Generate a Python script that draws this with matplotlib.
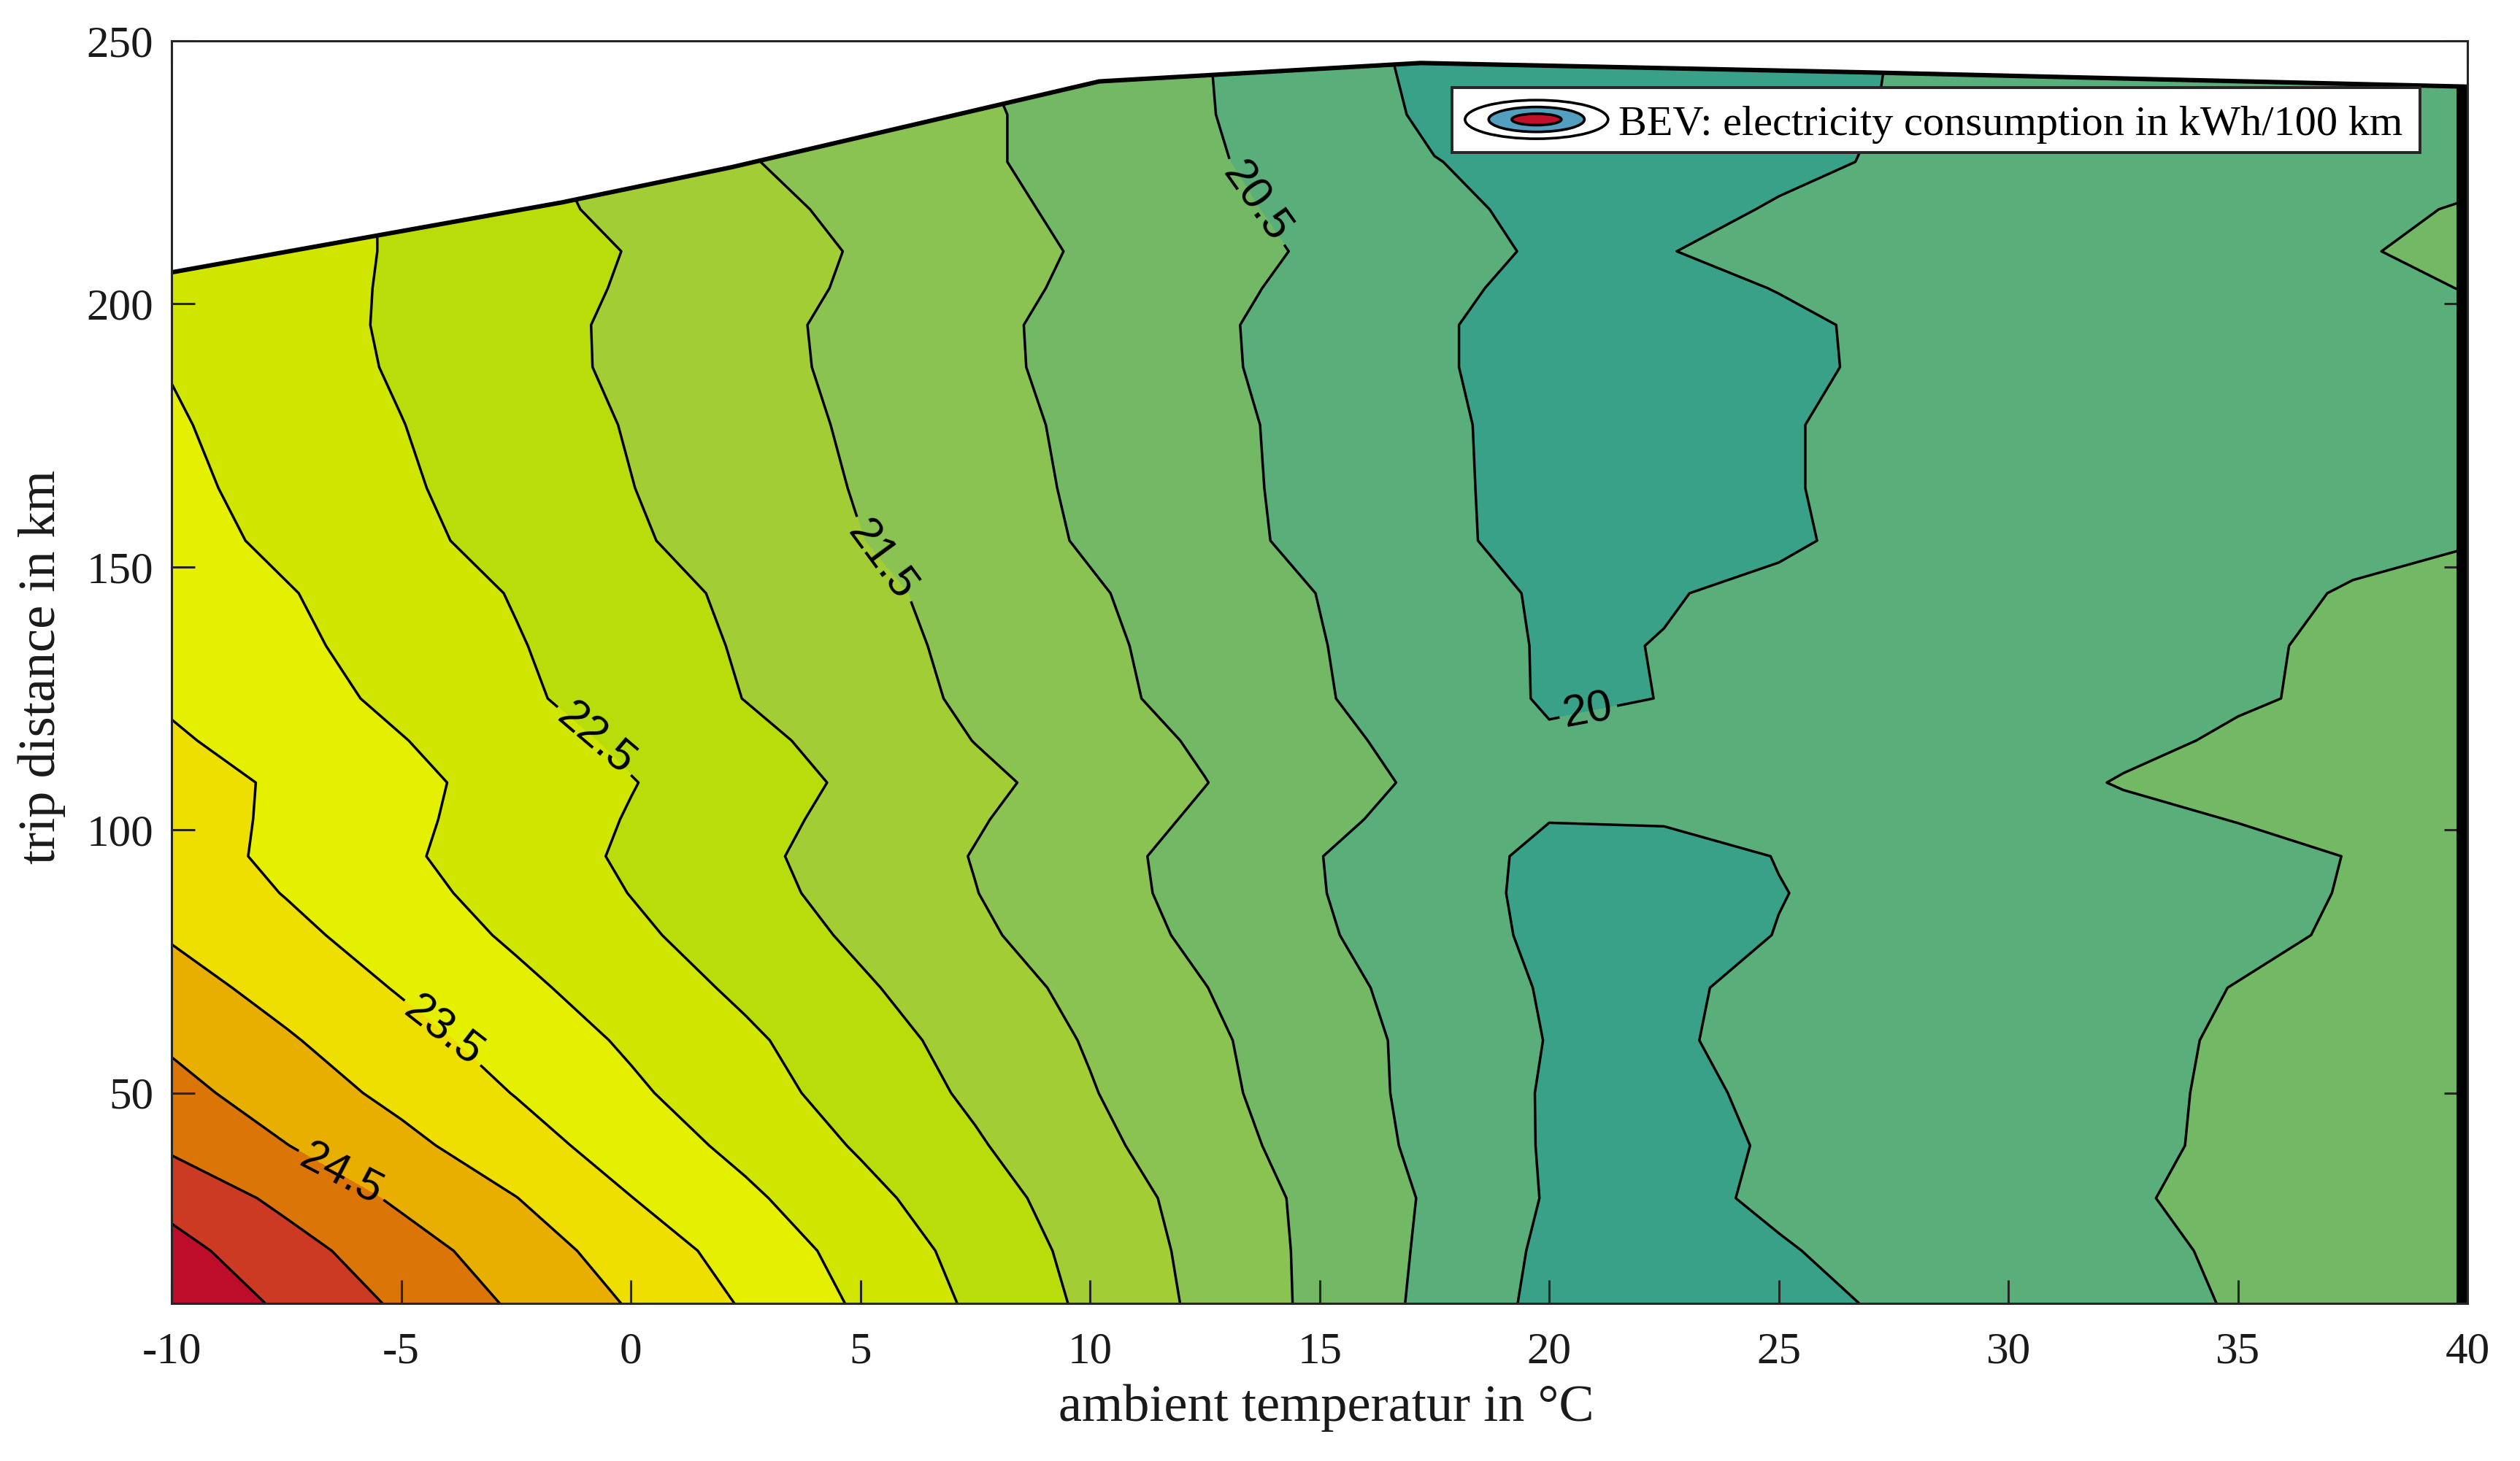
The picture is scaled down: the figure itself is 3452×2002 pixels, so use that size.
import numpy as np
import matplotlib
matplotlib.use("Agg")
import matplotlib.pyplot as plt
from matplotlib.patches import Ellipse, Rectangle

# ---------------- data ----------------
temperatures = [-10, -7.5, -5, -2.5, 0, 2.5, 5, 7.5, 10, 12.5, 15, 17.5, 20,
                22.5, 25, 27.5, 30, 32.5, 35, 37.5, 40]
distances = [10, 20, 30, 40, 50, 60, 70, 80, 88, 95, 102, 109, 117, 125, 135,
             145, 155, 165, 177, 188, 196, 203, 210, 218, 227, 236, 246]

# electricity consumption in kWh/100 km (rows = distances, cols = temperatures)
consumption = [
    [25.90, 25.41, 24.92, 24.43, 23.96, 23.45, 22.93, 22.42, 21.90, 21.39, 20.88, 20.37, 19.86, 19.76, 19.86, 20.06, 20.21, 20.37, 20.53, 20.63, 20.70],
    [25.66, 25.19, 24.71, 24.25, 23.78, 23.30, 22.82, 22.33, 21.84, 21.36, 20.88, 20.40, 19.90, 19.78, 19.97, 20.12, 20.27, 20.42, 20.55, 20.62, 20.68],
    [25.35, 24.88, 24.42, 24.01, 23.51, 23.09, 22.64, 22.20, 21.76, 21.32, 20.87, 20.43, 19.96, 19.90, 20.06, 20.19, 20.33, 20.48, 20.55, 20.62, 20.68],
    [24.92, 24.51, 24.13, 23.70, 23.28, 22.87, 22.45, 22.05, 21.63, 21.21, 20.79, 20.37, 19.95, 19.88, 20.04, 20.17, 20.30, 20.43, 20.56, 20.62, 20.68],
    [24.65, 24.26, 23.87, 23.48, 23.08, 22.69, 22.30, 21.92, 21.53, 21.13, 20.74, 20.35, 19.95, 19.90, 20.08, 20.18, 20.31, 20.43, 20.55, 20.62, 20.68],
    [24.43, 24.05, 23.67, 23.30, 22.93, 22.58, 22.20, 21.83, 21.46, 21.09, 20.72, 20.35, 19.98, 19.96, 20.09, 20.20, 20.32, 20.44, 20.53, 20.60, 20.66],
    [24.19, 23.83, 23.46, 23.11, 22.76, 22.41, 22.06, 21.72, 21.37, 21.01, 20.66, 20.30, 19.95, 19.94, 20.09, 20.18, 20.29, 20.40, 20.51, 20.60, 20.66],
    [23.96, 23.62, 23.27, 22.93, 22.59, 22.26, 21.92, 21.58, 21.24, 20.90, 20.56, 20.22, 19.90, 19.85, 20.01, 20.11, 20.22, 20.33, 20.43, 20.54, 20.60],
    [23.81, 23.48, 23.15, 22.82, 22.49, 22.16, 21.83, 21.51, 21.18, 20.85, 20.52, 20.20, 19.88, 19.82, 19.99, 20.10, 20.20, 20.31, 20.41, 20.52, 20.56],
    [23.72, 23.39, 23.07, 22.75, 22.43, 22.11, 21.79, 21.48, 21.16, 20.84, 20.51, 20.19, 19.90, 19.87, 20.01, 20.11, 20.21, 20.31, 20.41, 20.51, 20.55],
    [23.72, 23.41, 23.10, 22.79, 22.47, 22.16, 21.85, 21.54, 21.23, 20.93, 20.62, 20.31, 20.01, 20.03, 20.08, 20.22, 20.32, 20.42, 20.51, 20.56, 20.60],
    [23.72, 23.42, 23.12, 22.82, 22.52, 22.22, 21.91, 21.61, 21.31, 21.01, 20.70, 20.40, 20.12, 20.08, 20.12, 20.25, 20.38, 20.52, 20.56, 20.60, 20.62],
    [23.56, 23.29, 23.02, 22.71, 22.41, 22.12, 21.82, 21.49, 21.22, 20.94, 20.63, 20.32, 20.05, 20.04, 20.12, 20.22, 20.32, 20.43, 20.54, 20.60, 20.62],
    [23.44, 23.20, 22.89, 22.58, 22.29, 21.99, 21.71, 21.42, 21.13, 20.84, 20.54, 20.26, 19.95, 20.005, 20.10, 20.19, 20.28, 20.37, 20.47, 20.55, 20.58],
    [23.38, 23.10, 22.81, 22.53, 22.24, 21.95, 21.67, 21.38, 21.10, 20.81, 20.52, 20.24, 19.95, 20.01, 20.08, 20.19, 20.28, 20.37, 20.46, 20.55, 20.58],
    [23.31, 23.03, 22.75, 22.47, 22.19, 21.90, 21.62, 21.33, 21.05, 20.77, 20.49, 20.22, 19.93, 19.98, 20.07, 20.16, 20.25, 20.34, 20.43, 20.52, 20.56],
    [23.18, 22.90, 22.62, 22.34, 22.06, 21.79, 21.51, 21.23, 20.95, 20.66, 20.38, 20.11, 19.82, 19.85, 19.95, 20.10, 20.20, 20.28, 20.36, 20.44, 20.49],
    [23.11, 22.84, 22.56, 22.29, 22.01, 21.74, 21.47, 21.20, 20.92, 20.64, 20.37, 20.10, 19.82, 19.84, 19.97, 20.10, 20.20, 20.27, 20.33, 20.40, 20.45],
    [23.05, 22.78, 22.51, 22.24, 21.97, 21.70, 21.43, 21.16, 20.90, 20.63, 20.36, 20.09, 19.82, 19.83, 19.97, 20.10, 20.18, 20.25, 20.30, 20.36, 20.40],
    [22.98, 22.71, 22.45, 22.18, 21.91, 21.65, 21.39, 21.12, 20.85, 20.59, 20.32, 20.06, 19.78, 19.80, 19.92, 20.07, 20.15, 20.22, 20.28, 20.34, 20.40],
    [22.95, 22.69, 22.43, 22.17, 21.91, 21.64, 21.38, 21.11, 20.85, 20.58, 20.32, 20.06, 19.78, 19.80, 19.92, 20.08, 20.16, 20.24, 20.31, 20.38, 20.44],
    [22.93, 22.68, 22.44, 22.20, 21.95, 21.69, 21.43, 21.16, 20.90, 20.63, 20.37, 20.11, 19.86, 19.87, 20.014, 20.10, 20.18, 20.26, 20.34, 20.42, 20.51],
    [22.92, 22.69, 22.45, 22.22, 21.98, 21.72, 21.46, 21.20, 20.94, 20.69, 20.43, 20.18, 19.93, 19.99, 20.08, 20.16, 20.24, 20.32, 20.40, 20.48, 20.56],
    [22.92, 22.69, 22.45, 22.14, 21.89, 21.64, 21.39, 21.14, 20.88, 20.62, 20.37, 20.12, 19.87, 19.88, 20.03, 20.11, 20.20, 20.28, 20.36, 20.44, 20.52],
    [22.90, 22.67, 22.43, 22.12, 21.79, 21.53, 21.30, 21.07, 20.82, 20.56, 20.29, 20.01, 19.88, 19.83, 19.92, 20.04, 20.12, 20.20, 20.28, 20.35, 20.42],
    [22.85, 22.62, 22.40, 22.10, 21.80, 21.50, 21.27, 21.07, 20.82, 20.53, 20.22, 19.93, 19.82, 19.80, 19.88, 20.02, 20.10, 20.18, 20.26, 20.33, 20.40],
    [22.80, 22.60, 22.35, 22.05, 21.75, 21.48, 21.22, 21.02, 20.78, 20.52, 20.18, 19.90, 19.82, 19.80, 19.88, 20.01, 20.08, 20.16, 20.24, 20.30, 20.36],
]

# maximum trip distance per temperature (upper edge of the data region)
boundary_temp = [-10, -1.5, 2.2, 10.2, 17.2, 27.0, 40]
boundary_dist = [206.0, 219.3, 226.0, 242.3, 245.8, 244.0, 241.3]

fill_levels = [19.5, 20.0, 20.5, 21.0, 21.5, 22.0, 22.5, 23.0, 23.5, 24.0, 24.5, 25.0, 25.5, 26.0]
line_levels = [20.0, 20.5, 21.0, 21.5, 22.0, 22.5, 23.0, 23.5, 24.0, 24.5, 25.0, 25.5]
band_colors = ['#3aa189', '#5aae79', '#73b865', '#8bc352', '#a3cd35', '#b9dc0b',
               '#d0e600', '#e4f000', '#efdf00', '#e8ae00', '#dc7507', '#cd3a23', '#bd0d2b']

# positions of the inline contour labels (on the 24.5, 23.5, 22.5, 21.5, 20.5, 20 lines)
label_spots = [(-6.3, 34.5), (-4.1, 61.4), (-0.8, 116.8), (5.4, 150.7), (13.6, 219.2), (20.9, 120.0)]

x_ticks = [-10, -5, 0, 5, 10, 15, 20, 25, 30, 35, 40]
y_ticks = [50, 100, 150, 200, 250]

x_label = "ambient temperatur in °C"
y_label = "trip distance in km"
legend_text = "BEV: electricity consumption in kWh/100 km"

# ---------------- drawing ----------------
SERIF = ['Liberation Serif', 'DejaVu Serif']
SANS = ['Liberation Sans', 'DejaVu Sans']
plt.rcParams['font.family'] = SERIF
plt.rcParams['axes.linewidth'] = 1.1
AX_COL = '#262626'

fig = plt.figure(figsize=(17.26, 10.01), dpi=200)
ax = fig.add_axes([0.0681, 0.1079, 0.9111, 0.8641])

T = np.array(temperatures)
D = np.array(distances)
Z = np.array(consumption)

ax.contourf(T, D, Z, levels=fill_levels, colors=band_colors, zorder=1)
cl = ax.contour(T, D, Z, levels=line_levels, colors='k', linewidths=1.25, zorder=2)

# white region above the max trip distance
ax.fill_between(boundary_temp, boundary_dist, 260, color='white', lw=0, zorder=2.5)
ax.plot(boundary_temp, boundary_dist, color='k', lw=2.2, zorder=2.6,
        solid_joinstyle='miter')
# dark band at the right edge of the data region
ax.fill_betweenx([D[0], boundary_dist[-1]], 39.76, 40, color='black', lw=0, zorder=2.7)

plt.rcParams['font.family'] = SANS
ax.clabel(cl, levels=line_levels, manual=label_spots, fmt='%g', fontsize=22,
          inline=True, inline_spacing=6, colors='k')
plt.rcParams['font.family'] = SERIF

ax.set_xlim(-10, 40)
ax.set_ylim(10, 250)
ax.set_xticks(x_ticks)
ax.set_yticks(y_ticks)
ax.set_xticklabels([str(v) for v in x_ticks])
ax.set_yticklabels([str(v) for v in y_ticks])
ax.tick_params(direction='in', length=11.5, width=1.1, top=True, right=True,
               labelsize=22, color=AX_COL, labelcolor='#1a1a1a',
               labelfontfamily='Liberation Serif')
ax.tick_params(axis='x', pad=14)
ax.tick_params(axis='y', pad=9)
for s in ax.spines.values():
    s.set_color(AX_COL)
    s.set_zorder(6)

ax.set_xlabel(x_label, fontsize=26, color='#1a1a1a')
ax.set_ylabel(y_label, fontsize=26, color='#1a1a1a')
ax.xaxis.set_label_coords(0.503, -0.064)
ax.yaxis.set_label_coords(-0.046, 0.504)

# legend box with contour icon
ax.add_patch(Rectangle((0.5576, 0.9118), 0.4216, 0.0513, transform=ax.transAxes,
                       facecolor='white', edgecolor=AX_COL, lw=1.4, zorder=7))
cx, cy = 0.5945, 0.9378
ax.add_patch(Ellipse((cx, cy), 0.0623, 0.0306, transform=ax.transAxes,
                     facecolor='white', edgecolor='k', lw=1.3, zorder=8))
ax.add_patch(Ellipse((cx, cy), 0.0417, 0.0197, transform=ax.transAxes,
                     facecolor='#529fbf', edgecolor='k', lw=1.3, zorder=9))
ax.add_patch(Ellipse((cx, cy), 0.0216, 0.0090, transform=ax.transAxes,
                     facecolor='#c0102a', edgecolor='k', lw=1.3, zorder=10))
ax.text(0.6302, 0.9256, legend_text, transform=ax.transAxes, fontsize=21,
        va='baseline', ha='left', color='black', zorder=11)

fig.savefig("out.png", dpi=200)
